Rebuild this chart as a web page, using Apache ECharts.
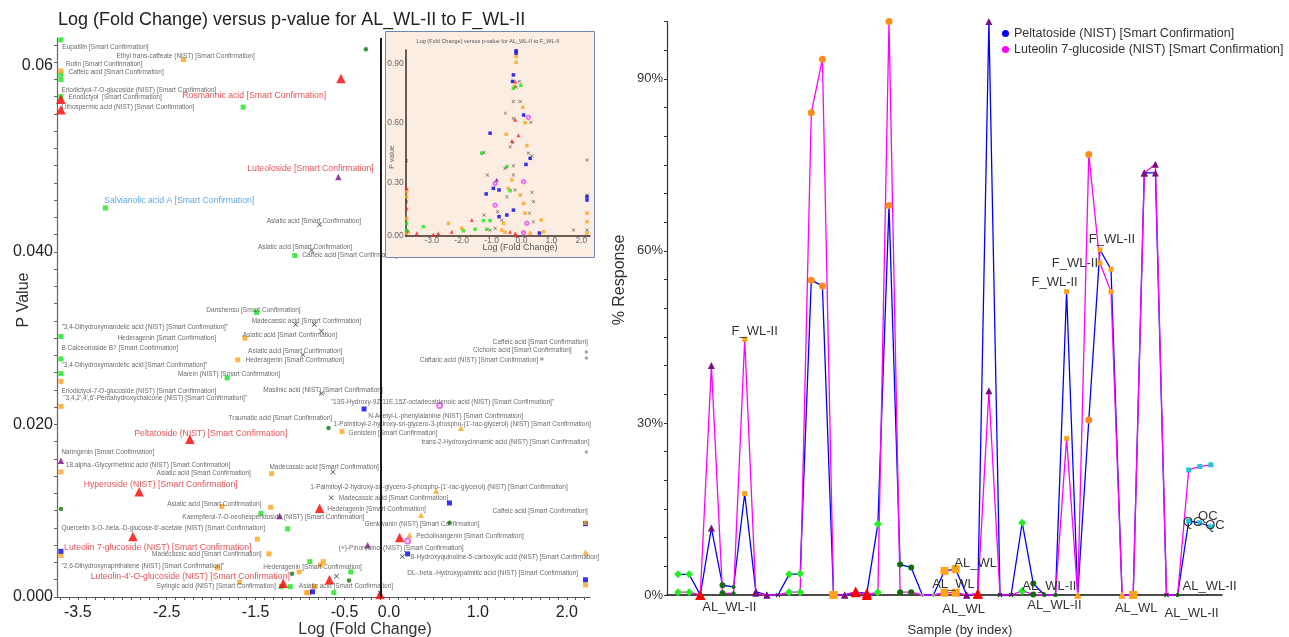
<!DOCTYPE html>
<html>
<head>
<meta charset="utf-8">
<script src="https://cdn.jsdelivr.net/npm/echarts@6/dist/echarts.min.js"></script>
<style>
  html, body { margin: 0; background: #fff; }
  #chart { width: 1289px; height: 637px; }
</style>
</head>
<body>
<div id="chart"></div>
<script>
///////////////////////////////////////////////////
// Volcano plot AL_WL-II vs F_WL-II : [log fold change, p value]
///////////////////////////////////////////////////
var greenSquares = [
  [-3.69, 0.0646], [-3.69, 0.0606], [-3.69, 0.0600], [-3.69, 0.0580], [-1.64, 0.0568],
  [-3.19, 0.0451], [-1.06, 0.0396], [-1.49, 0.0330], [-3.69, 0.0302], [-3.69, 0.0276],
  [-3.69, 0.0259], [-1.82, 0.0254], [-1.44, 0.0097], [-1.14, 0.0079], [-0.89, 0.0041],
  [-0.43, 0.0029], [-1.21, 0.0012], [-1.11, 0.0012], [-0.62, 0.0005]
];
var orangeSquares = [
  [-2.31, 0.0623], [-3.69, 0.0610], [-1.62, 0.0300], [-1.70, 0.0275], [-3.69, 0.0250],
  [-3.69, 0.0221], [-0.53, 0.0192], [-3.69, 0.0145], [-1.32, 0.0143], [-1.88, 0.0105],
  [-1.33, 0.0104], [-1.48, 0.0067], [-3.69, 0.0048], [-1.35, 0.0050], [-1.93, 0.0034],
  [-0.74, 0.0041], [-0.77, 0.0037], [-1.01, 0.0029], [-1.68, 0.0017], [-0.84, 0.0012],
  [-0.93, 0.0005], [-0.90, 0.0005], [2.21, 0.0014]
];
var redTriangles = [
  [-0.54, 0.0601], [-3.69, 0.0577], [-3.69, 0.0565], [-2.24, 0.0183], [-2.81, 0.0122],
  [-0.78, 0.0103], [-2.88, 0.0070], [0.12, 0.0069], [-1.19, 0.0016], [-0.67, 0.0020],
  [-0.10, 0.0003]
];
var purpleTriangles = [[-0.57, 0.0487], [-3.69, 0.0158], [-1.23, 0.0094], [-0.24, 0.0060]];
var darkGreenDots = [
  [-0.26, 0.0635], [-0.68, 0.0196], [-3.69, 0.0102], [0.68, 0.0086], [-1.09, 0.0027], [-0.45, 0.0019]
];
var blackCrosses = [
  [-0.78, 0.0432], [-0.87, 0.0402], [-1.05, 0.0316], [-0.84, 0.0316], [-0.76, 0.0308],
  [-0.97, 0.0281], [-0.76, 0.0236], [-0.63, 0.0145], [-0.65, 0.0115], [-0.59, 0.0024],
  [0.15, 0.0047], [-0.10, 0.0005]
];
var blueSquares = [
  [-0.28, 0.0218], [0.68, 0.0109], [2.21, 0.0085], [-3.69, 0.0053], [0.21, 0.0050],
  [2.21, 0.0020], [-0.86, 0.0006]
];
var orangeTriangles = [
  [0.81, 0.0196], [0.53, 0.0123], [0.36, 0.0095], [2.21, 0.0087], [0.23, 0.0072], [2.21, 0.0052]
];
var grayDots = [[2.22, 0.0284], [2.22, 0.0277], [1.72, 0.0276], [2.22, 0.0168]];
var magentaRings = [[0.57, 0.0222], [0.21, 0.0065]];

// compound annotations: [text, log fold change, p value] (left end of the text)
var compoundLabels = [
  ['Eupatilin [Smart Confirmation]', -3.68, 0.0637],
  ['Ethyl trans-caffeate (NIST) [Smart Confirmation]', -3.07, 0.0627],
  ['Rutin [Smart Confirmation]', -3.64, 0.0618],
  ['Caffeic acid [Smart Confirmation]', -3.61, 0.0608],
  ['Eriodictyol-7-O-glucoside (NIST) [Smart Confirmation]', -3.69, 0.0588],
  ['Eriodictyol  [Smart Confirmation]', -3.61, 0.0579],
  ['Lithospermic acid (NIST) [Smart Confirmation]', -3.69, 0.0568],
  ['Asiatic acid [Smart Confirmation]', -1.38, 0.0436],
  ['Asiatic acid [Smart Confirmation]', -1.48, 0.0406],
  ['Caffeic acid [Smart Confirmation]', -0.98, 0.0396],
  ['Danshensu [Smart Confirmation]', -2.06, 0.0332],
  ['Madecassic acid [Smart Confirmation]', -1.55, 0.0320],
  ['"3,4-Dihydroxymandelic acid (NIST) [Smart Confirmation]"', -3.69, 0.0313],
  ['Hederagenin [Smart Confirmation]', -3.06, 0.0300],
  ['Asiatic acid [Smart Confirmation]', -1.65, 0.0304],
  ['B Calceorioside B? [Smart Confirmation]', -3.69, 0.0288],
  ['Asiatic acid [Smart Confirmation]', -1.59, 0.0285],
  ['Hederagenin [Smart Confirmation]', -1.62, 0.0274],
  ['"3,4-Dihydroxymandelic acid [Smart Confirmation]"', -3.69, 0.0269],
  ['Marein (NIST) [Smart Confirmation]', -2.38, 0.0258],
  ['Eriodictyol-7-O-glucoside (NIST) [Smart Confirmation]', -3.69, 0.0239],
  ['Maslinic acid (NIST) [Smart Confirmation]', -1.42, 0.0240],
  ['"3,4,2\',4\',6\'-Pentahydroxychalcone (NIST) [Smart Confirmation]"', -3.67, 0.0230],
  ['"13S-Hydroxy-9Z,11E,15Z-octadecatrienoic acid (NIST) [Smart Confirmation]"', -0.66, 0.0226],
  ['N-Acetyl-L-phenylalanine (NIST) [Smart Confirmation]', -0.24, 0.0210],
  ['Traumatic acid [Smart Confirmation]', -1.81, 0.0207],
  ['1-Palmitoyl-2-hydroxy-sn-glycero-3-phospho-(1\'-rac-glycerol) (NIST) [Smart Confirmation]', -0.63, 0.0200],
  ['Genistein [Smart Confirmation]', -0.46, 0.0190],
  ['Caffeic acid [Smart Confirmation]', 1.16, 0.0295],
  ['Cichoric acid [Smart Confirmation]', 0.94, 0.0286],
  ['Caftaric acid (NIST) [Smart Confirmation]', 0.34, 0.0275],
  ['trans-2-Hydroxycinnamic acid (NIST) [Smart Confirmation]', 0.36, 0.0179],
  ['Naringenin [Smart Confirmation]', -3.69, 0.0168],
  ['18.alpha.-Glycyrrhetinic acid (NIST) [Smart Confirmation]', -3.64, 0.0153],
  ['Madecassic acid [Smart Confirmation]', -1.35, 0.0150],
  ['Asiatic acid [Smart Confirmation]', -2.62, 0.0143],
  ['1-Palmitoyl-2-hydroxy-sn-glycero-3-phospho-(1\'-rac-glycerol) (NIST) [Smart Confirmation]', -0.89, 0.0127],
  ['Madecassic acid [Smart Confirmation]', -0.57, 0.0114],
  ['Asiatic acid [Smart Confirmation]', -2.50, 0.0108],
  ['Hederagenin [Smart Confirmation]', -0.70, 0.0102],
  ['Caffeic acid [Smart Confirmation]', 1.16, 0.0099],
  ['Kaempferol-7-O-neohesperidoside (NIST) [Smart Confirmation]', -2.33, 0.0092],
  ['Quercetin 3-O-.beta.-D-glucose-6\'-acetate (NIST) [Smart Confirmation]', -3.69, 0.0080],
  ['Genkwanin (NIST) [Smart Confirmation]', -0.28, 0.0084],
  ['Pectolinarigenin [Smart Confirmation]', 0.30, 0.0071],
  ['(+)-Pinoresinol (NIST) [Smart Confirmation]', -0.57, 0.0057],
  ['Madecassic acid [Smart Confirmation]', -2.67, 0.0050],
  ['8-Hydroxyquinoline-5-carboxylic acid (NIST) [Smart Confirmation]', 0.24, 0.0046],
  ['"2,6-Dihydroxynaphthalene (NIST) [Smart Confirmation]"', -3.69, 0.0036],
  ['Hederagenin [Smart Confirmation]', -1.42, 0.0035],
  ['DL-.beta.-Hydroxypalmitic acid (NIST) [Smart Confirmation]', 0.20, 0.0028],
  ['Syringic acid (NIST) [Smart Confirmation]', -2.62, 0.0012],
  ['Asiatic acid [Smart Confirmation]', -1.02, 0.0012]
];
var redLabels = [
  ['Rosmarinic acid [Smart Confirmation]', -2.33, 0.0581],
  ['Luteoloside [Smart Confirmation]', -1.60, 0.0497],
  ['Peltatoside (NIST) [Smart Confirmation]', -2.87, 0.0189],
  ['Hyperoside (NIST) [Smart Confirmation]', -3.44, 0.0130],
  ['Luteolin 7-glucoside (NIST) [Smart Confirmation]', -3.66, 0.0057],
  ['Luteolin-4\'-O-glucoside (NIST) [Smart Confirmation]', -3.36, 0.0024]
];
var blueLabels = [['Salvianolic acid A [Smart Confirmation]', -3.21, 0.0460]];

///////////////////////////////////////////////////
// Inset: full p value range
///////////////////////////////////////////////////
var insetBlue = [
  [-0.18, 0.965], [-0.18, 0.953], [-0.27, 0.843], [-0.30, 0.810], [0.07, 0.640], [-1.05, 0.548],
  [0.29, 0.421], [0.15, 0.390], [-0.94, 0.269], [-0.75, 0.261], [-1.18, 0.241], [-0.27, 0.159],
  [-0.49, 0.134], [-0.75, 0.126], [2.19, 0.227], [2.19, 0.210], [0.60, 0.043]
];
var insetOrange = [
  [-0.18, 0.936], [-0.18, 0.907], [-0.23, 0.786], [0.04, 0.679], [0.12, 0.601], [-0.51, 0.543],
  [0.18, 0.485], [-0.32, 0.312], [-0.44, 0.269], [-0.04, 0.235], [0.07, 0.193], [0.12, 0.143],
  [-0.60, 0.092], [0.66, 0.109], [2.19, 0.143], [2.19, 0.100], [-2.44, 0.092], [-2.00, 0.067],
  [-0.66, 0.058], [-0.55, 0.047], [0.29, 0.042], [0.74, 0.050], [2.19, 0.042], [-3.84, 0.252],
  [-3.84, 0.227], [-3.84, 0.117], [-3.84, 0.042]
];
var insetRed = [
  [-0.21, 0.810], [-0.21, 0.616], [-0.10, 0.538], [-0.32, 0.509], [-1.66, 0.109], [-2.78, 0.042],
  [-2.33, 0.050], [-0.38, 0.050], [-0.21, 0.042], [-2.95, 0.036], [-3.50, 0.042], [-3.84, 0.269],
  [-3.84, 0.168], [-0.17, 0.030]
];
var insetGreen = [
  [-0.27, 0.775], [-0.02, 0.790], [-1.33, 0.447], [-0.49, 0.379], [-0.38, 0.257], [-1.05, 0.106],
  [-1.27, 0.106], [-1.94, 0.055], [-1.55, 0.062], [-1.16, 0.062], [-3.28, 0.075], [-3.84, 0.092],
  [-3.84, 0.058]
];
var insetDark = [
  [-0.07, 0.810], [-0.18, 0.781], [-0.27, 0.708], [-0.04, 0.708], [-0.54, 0.649], [-0.27, 0.623],
  [0.31, 0.603], [-0.29, 0.500], [-0.38, 0.480], [-1.25, 0.450], [0.23, 0.447], [0.35, 0.434],
  [-0.55, 0.370], [-0.27, 0.383], [-0.27, 0.337], [-1.14, 0.337], [-0.21, 0.261], [-0.49, 0.227],
  [0.35, 0.249], [0.40, 0.202], [-0.80, 0.151], [-1.25, 0.134], [0.27, 0.143], [-0.66, 0.109],
  [0.40, 0.100], [-1.05, 0.058], [-0.88, 0.067], [1.74, 0.058], [2.19, 0.412], [2.19, 0.235],
  [2.19, 0.058], [-3.84, 0.409], [-3.84, 0.202], [-3.78, 0.050]
];
var insetMagenta = [[0.23, 0.628], [-0.88, 0.294], [0.07, 0.303], [-0.88, 0.184], [0.18, 0.092], [0.07, 0.045]];
var insetPurple = [[-0.83, 0.312]];

///////////////////////////////////////////////////
// Trend chart: % response per sample
///////////////////////////////////////////////////
var sampleIndex = [1, 2, 3, 4, 5, 6, 7, 8, 9, 10, 11, 12, 13, 14, 15, 16, 17, 18, 19, 20,
  21, 22, 23, 24, 25, 26, 27, 28, 29, 30, 31, 32, 33, 34, 35, 36, 37, 38, 39, 40,
  41, 42, 43, 44, 45, 46, 47, 48, 49];
var peltatoside = [3.6, 3.6, 0, 11.7, 1.7, 1.4, 17.7, 0.6, 0, 0, 3.6, 3.7, 54.9, 53.9, 0, 0, 0.5, 0.3, 12.4, 67.9,
  5.3, 4.8, 0, 0, 4.2, 4.5, 0, 0.2, 100, 0, 0, 12.6, 2.0, 0, 0, 52.9, 0, 30.5, 60.2, 56.8,
  0, 0, 73.6, 73.6, 0, 0, 12.9, 12.6, 11.9];
var luteolin7 = [0.5, 0.5, 0, 40.0, 0.3, 0.3, 44.6, 0.3, 0, 0, 0.5, 0.5, 84.1, 93.4, 0, 0, 0.6, 0, 0.5, 100,
  0.5, 0.5, 0, 0, 0.4, 0.4, 0, 0.2, 35.6, 0, 0, 0.7, 0.1, 0, 0, 27.3, 0, 76.8, 57.9, 52.9,
  0, 0, 73.6, 75.1, 0, 0, 21.8, 22.4, 22.7];
// marker used for each sample
var sampleMarker = ['gDia', 'gDia', 'rTri', 'pTri', 'dgDot', 'dgSm', 'oSq', 'pTri', 'pTri', 'kX',
  'gDia', 'gDia', 'oDot', 'oDot', 'oSqL', 'pTri', 'rTri', 'rTri', 'gDia', 'oDot',
  'dgDot', 'dgDot', 'gy', 'gy', 'oSqL', 'oSqL', 'pTri', 'rTri', 'pTri', 'kX',
  'kX', 'gDia', 'dgDot', 'dgSm', 'dgSm', 'oSq', 'oTri', 'oDot', 'oSq', 'oSq',
  'oTri', 'oSqL', 'pTri', 'pTri', 'kX', 'dgSm', 'cSq', 'cSq', 'cSq'];
// sample group tags: [series, sample index, text]
var sampleLabels = [
  ['L', 7, 'F_WL-II'], ['L', 3, 'AL_WL-II'], ['P', 26, 'AL_WL'], ['L', 25, 'AL_WL'],
  ['L', 26, 'AL_WL'], ['L', 33, 'AL_WL-II'], ['L', 34, 'AL_WL-II'], ['L', 42, 'AL_WL'],
  ['P', 46, 'AL_WL-II'], ['L', 46, 'AL_WL-II'], ['P', 36, 'F_WL-II'], ['P', 39, 'F_WL-II'],
  ['L', 39, 'F_WL-II'], ['P', 47, 'QC'], ['P', 48, 'QC'], ['P', 49, 'QC']
];

///////////////////////////////////////////////////
// Styling
///////////////////////////////////////////////////
var FONT = '"Liberation Sans", Arial, sans-serif';
var crossPath = 'path://M1,0L5,4L9,0L10,1L6,5L10,9L9,10L5,6L1,10L0,9L4,5L0,1Z';
var labelOffsets = [[10, -8], [29, 12], [20, -6], [9, -8], [8, 17], [16, -8], [10, 10], [3, 13],
  [32, -9], [14, 18], [-12, -9], [12, -10], [-25, 0], [4, 1], [8, -6], [4, -1]];
var markerStyles = {
  gDia: { symbol: 'diamond', size: 8, color: '#22ee22' },
  rTri: { symbol: 'triangle', size: 10, color: '#ff0000' },
  pTri: { symbol: 'triangle', size: 7, color: '#7d0f7d' },
  dgDot: { symbol: 'circle', size: 6, color: '#0f6e0f' },
  dgSm: { symbol: 'circle', size: 4, color: '#0f6e0f' },
  oSq: { symbol: 'rect', size: 5, color: '#ffa31a' },
  oSqL: { symbol: 'rect', size: 8, color: '#ffa31a' },
  oDot: { symbol: 'circle', size: 7, color: '#ff8c1a' },
  oTri: { symbol: 'triangle', size: 7, color: '#ffa31a' },
  gy: { symbol: 'circle', size: 3.5, color: '#9a9a88' },
  kX: { symbol: crossPath, size: 4.5, color: '#222' },
  cSq: { symbol: 'rect', size: 5, color: '#22c4d8' }
};

function ticks(from, to, step) {
  var out = [];
  for (var v = from; v <= to + 1e-9; v += step) out.push(Math.round(v * 10000) / 10000);
  return out;
}

function dots(data, grid, symbol, size, color, z) {
  return {
    type: 'scatter', xAxisIndex: grid, yAxisIndex: grid, data: data, silent: true, z: z,
    symbol: symbol, symbolSize: size, itemStyle: { color: color }
  };
}

function textSeries(list, size, color) {
  return {
    type: 'scatter', xAxisIndex: 0, yAxisIndex: 0, silent: true, z: 3,
    symbolSize: 1, itemStyle: { color: 'rgba(0,0,0,0)' },
    data: list.map(function (d) { return { name: d[0], value: [d[1], d[2]] }; }),
    label: {
      show: true, position: 'right', distance: 0, formatter: '{b}',
      fontSize: size, color: color, fontFamily: FONT
    }
  };
}

function trendSeries(name, key, values, color) {
  return {
    type: 'line', name: name, xAxisIndex: 2, yAxisIndex: 2, silent: true,
    showAllSymbol: true,
    lineStyle: { color: color, width: 1.3 },
    itemStyle: { color: color },
    data: values.map(function (v, i) {
      var m = markerStyles[sampleMarker[i]];
      var item = { value: [sampleIndex[i], v], symbol: m.symbol, symbolSize: m.size, itemStyle: { color: m.color } };
      sampleLabels.forEach(function (l, k) {
        if (l[0] === key && l[1] === sampleIndex[i]) {
          item.label = {
            show: true, formatter: l[2], position: 'inside', offset: labelOffsets[k],
            fontSize: 13, color: '#333', fontFamily: FONT
          };
        }
      });
      return item;
    })
  };
}

var mainRed = dots(redTriangles, 0, 'triangle', 9.5, '#ff0000', 2);
mainRed.markLine = {
  silent: true, symbol: ['none', 'none'], label: { show: false },
  lineStyle: { color: '#1a1a1a', width: 2, type: 'solid' },
  data: [{ xAxis: -0.09 }]
};
var insetCross = dots(insetDark, 1, crossPath, 3.5, '#3a2a1a', 60);
insetCross.markLine = {
  silent: true, symbol: ['none', 'none'], label: { show: false },
  lineStyle: { color: '#3b2a20', width: 1.5, type: 'solid' },
  data: [{ xAxis: -0.15 }]
};
var ringStyle = { color: '#e64ce6', borderWidth: 1.2 };

var option = {
  animation: false,
  backgroundColor: '#fff',
  textStyle: { fontFamily: FONT },
  grid: [
    { left: 57, top: 38, width: 533, height: 559 },
    { left: 405.7, top: 50, width: 184.3, height: 186, z: 55 },
    { left: 667, top: 21.5, width: 555, height: 573.5 }
  ],
  xAxis: [
    {
      gridIndex: 0, type: 'value', min: -3.734, max: 2.261, splitLine: { show: false },
      axisLine: { lineStyle: { color: '#555', width: 1.2 } },
      axisTick: { customValues: ticks(-3.7, 2.2, 0.1), length: 3, lineStyle: { color: '#555' } },
      axisLabel: {
        customValues: [-3.5, -2.5, -1.5, -0.5, 0, 1, 2], margin: 8,
        formatter: function (v) { return v.toFixed(1); }, fontSize: 16, color: '#222'
      }
    },
    {
      gridIndex: 1, type: 'value', min: -3.87, max: 2.29, z: 55, splitLine: { show: false },
      axisLine: { lineStyle: { color: '#3b2a20', width: 1.5 } },
      axisTick: { show: false },
      axisLabel: {
        customValues: [-3, -2, -1, 0, 1, 2], margin: 0,
        formatter: function (v) { return v.toFixed(1); }, fontSize: 8.5, color: '#666'
      }
    },
    {
      gridIndex: 2, type: 'value', min: 0, max: 50, splitLine: { show: false },
      axisLine: { lineStyle: { color: '#111', width: 1.5 } },
      axisTick: { show: false }, axisLabel: { show: false }
    }
  ],
  yAxis: [
    {
      gridIndex: 0, type: 'value', min: 0, max: 0.06481, splitLine: { show: false },
      axisLine: { show: true, onZero: false, lineStyle: { color: '#666', width: 1.2 } },
      axisTick: { show: true, customValues: ticks(0, 0.064, 0.002), length: 3, lineStyle: { color: '#666' } },
      axisLabel: {
        customValues: [0, 0.02, 0.04, 0.0616], margin: 4, fontSize: 16, color: '#222',
        formatter: function (v) { return v > 0.05 ? '0.06' : v.toFixed(3); }
      }
    },
    {
      gridIndex: 1, type: 'value', min: 0.028, max: 0.969, z: 55, splitLine: { show: false },
      axisLine: { show: true, onZero: false, lineStyle: { color: '#3b2a20', width: 1.5 } },
      axisTick: { show: false },
      axisLabel: {
        customValues: [0.028, 0.3, 0.6, 0.9], margin: 2, fontSize: 8.5, color: '#666',
        formatter: function (v) { return v < 0.1 ? '0.00' : v.toFixed(2); }
      }
    },
    {
      gridIndex: 2, type: 'value', min: 0, max: 100, splitLine: { show: false },
      axisLine: { show: true, onZero: false, lineStyle: { color: '#333', width: 1.2 } },
      axisTick: { show: true, customValues: ticks(0, 100, 5), length: 3, lineStyle: { color: '#333' } },
      axisLabel: {
        customValues: [0, 30, 60, 90], margin: 4, fontSize: 13, color: '#333',
        formatter: function (v) { return v + '%'; }
      }
    }
  ],
  legend: {
    orient: 'vertical', left: 997, top: 22, icon: 'circle', itemWidth: 7, itemHeight: 7, itemGap: 3,
    textStyle: { fontSize: 12.5, color: '#333', fontFamily: FONT },
    data: ['Peltatoside (NIST) [Smart Confirmation]', 'Luteolin 7-glucoside (NIST) [Smart Confirmation]']
  },
  graphic: [
    {
      type: 'text', x: 58, y: 20, style: {
        text: 'Log (Fold Change) versus p-value for AL_WL-II to F_WL-II',
        fontSize: 18, fontFamily: FONT, fill: '#222', verticalAlign: 'middle'
      }
    },
    {
      type: 'text', x: 24, y: 300, rotation: Math.PI / 2, style: {
        text: 'P Value', fontSize: 16, fontFamily: FONT, fill: '#333', align: 'center', verticalAlign: 'middle'
      }
    },
    {
      type: 'text', x: 365, y: 630, style: {
        text: 'Log (Fold Change)', fontSize: 16, fontFamily: FONT, fill: '#333', align: 'center', verticalAlign: 'middle'
      }
    },
    {
      type: 'rect', z: 50, shape: { x: 385.5, y: 31.5, width: 209, height: 226 },
      style: { fill: '#fcede3', stroke: '#7286b6', lineWidth: 1 }
    },
    {
      type: 'text', z: 61, x: 488, y: 41, style: {
        text: 'Log (Fold Change) versus p-value for AL_WL-II to F_WL-II',
        fontSize: 5.5, fontFamily: FONT, fill: '#555', align: 'center', verticalAlign: 'middle'
      }
    },
    {
      type: 'text', z: 61, x: 392, y: 157, rotation: Math.PI / 2, style: {
        text: 'P value', fontSize: 7, fontFamily: FONT, fill: '#666', align: 'center', verticalAlign: 'middle'
      }
    },
    {
      type: 'text', z: 61, x: 520, y: 248, style: {
        text: 'Log (Fold Change)', fontSize: 9, fontFamily: FONT, fill: '#555', align: 'center', verticalAlign: 'middle'
      }
    },
    {
      type: 'text', x: 620, y: 280, rotation: Math.PI / 2, style: {
        text: '% Response', fontSize: 16, fontFamily: FONT, fill: '#333', align: 'center', verticalAlign: 'middle'
      }
    },
    {
      type: 'text', x: 960, y: 630, style: {
        text: 'Sample (by index)', fontSize: 13, fontFamily: FONT, fill: '#333', align: 'center', verticalAlign: 'middle'
      }
    }
  ],
  series: [
    dots(greenSquares, 0, 'rect', 5, '#19e619', 2),
    dots(orangeSquares, 0, 'rect', 5, '#ffa31a', 2),
    dots(blueSquares, 0, 'rect', 5, '#0000ee', 2),
    dots(grayDots, 0, 'circle', 3.5, '#8f8f75', 2),
    dots(darkGreenDots, 0, 'circle', 4.5, '#0b7a0b', 2),
    dots(blackCrosses, 0, crossPath, 5, '#222', 2),
    dots(orangeTriangles, 0, 'triangle', 6, '#ffa31a', 2),
    dots(purpleTriangles, 0, 'triangle', 6.5, '#7d0f85', 2),
    mainRed,
    { type: 'scatter', xAxisIndex: 0, yAxisIndex: 0, silent: true, data: magentaRings,
      symbol: 'emptyCircle', symbolSize: 5, itemStyle: ringStyle },
    textSeries(compoundLabels, 6.5, '#444'),
    textSeries(redLabels, 8.7, '#e0252c'),
    textSeries(blueLabels, 8.7, '#3a8fdc'),

    dots(insetOrange, 1, 'rect', 3.5, '#ffa31a', 60),
    dots(insetGreen, 1, 'rect', 3.5, '#19e619', 60),
    dots(insetBlue, 1, 'rect', 3.5, '#0000ee', 60),
    dots(insetRed, 1, 'triangle', 4, '#ff2020', 60),
    dots(insetPurple, 1, 'triangle', 4, '#7d0f85', 60),
    insetCross,
    { type: 'scatter', xAxisIndex: 1, yAxisIndex: 1, silent: true, z: 60, data: insetMagenta,
      symbol: 'emptyCircle', symbolSize: 3.5, itemStyle: { color: '#e64ce6', borderWidth: 1 } },

    trendSeries('Peltatoside (NIST) [Smart Confirmation]', 'P', peltatoside, '#0000ff'),
    trendSeries('Luteolin 7-glucoside (NIST) [Smart Confirmation]', 'L', luteolin7, '#ff00ff')
  ]
};

var myChart = echarts.init(document.getElementById('chart'), null, { renderer: 'canvas' });
myChart.setOption(option);
</script>
</body>
</html>
